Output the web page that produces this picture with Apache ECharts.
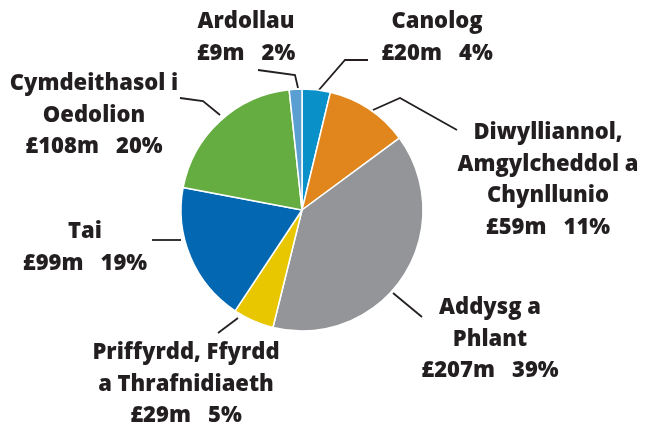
<!DOCTYPE html>
<html>
<head>
<meta charset="utf-8">
<style>
  html, body { margin: 0; padding: 0; background: #ffffff; }
  #chart { width: 646px; height: 430px; }
</style>
<script src="https://cdn.jsdelivr.net/npm/echarts@6/dist/echarts.min.js"></script>
</head>
<body>
<div id="chart"></div>
<script>
// Budget areas, clockwise from twelve o'clock
const categories = [
  'Canolog',
  'Diwylliannol,\nAmgylcheddol a\nChynllunio',
  'Addysg a\nPhlant',
  'Priffyrdd, Ffyrdd\na Thrafnidiaeth',
  'Tai',
  'Cymdeithasol i\nOedolion',
  'Ardollau'
];
// Spend in £ millions
const spendMillions = [20, 59, 207, 29, 99, 108, 9];

const sliceColors = ['#0a90c9', '#e0861d', '#949598', '#e8c600', '#0467b2', '#66ad41', '#5a9fd2'];

// Label block placement: centre x, top y, and the leader polyline (edge -> label)
const labelPlacement = [
  { x: 437, top: 6,   line: [[318, 91], [345, 60], [368, 60]] },
  { x: 548, top: 117, line: [[373, 110], [400, 98], [457, 130]] },
  { x: 490, top: 292, line: [[393, 293], [422, 317]] },
  { x: 186, top: 337, line: [[238, 318], [218, 333]] },
  { x: 85,  top: 216, line: [[181, 240], [152, 240]] },
  { x: 94,  top: 68,  line: [[220, 115], [203, 101], [180, 98]] },
  { x: 246, top: 6,   line: [[298, 88], [295, 75], [258, 70]] }
];

const chart = echarts.init(document.getElementById('chart'), null, { renderer: 'canvas' });

chart.setOption({
  animation: false,
  backgroundColor: '#ffffff',
  series: [{
    type: 'pie',
    center: [302, 210],
    radius: 121,
    startAngle: 90,
    clockwise: true,
    avoidLabelOverlap: false,
    percentPrecision: 0,
    data: categories.map((name, i) => ({
      name: name,
      value: spendMillions[i],
      itemStyle: { color: sliceColors[i] }
    })),
    itemStyle: { borderColor: '#ffffff', borderWidth: 1.5 },
    emphasis: { disabled: true },
    label: {
      show: true,
      formatter: p => p.name + '\n£' + p.value + 'm   ' + p.percent + '%',
      fontFamily: 'Open Sans',
      fontWeight: 800,
      fontSize: 22,
      lineHeight: 31.5,
      color: '#231f20',
      align: 'center'
    },
    labelLine: {
      show: true,
      lineStyle: { color: '#231f20', width: 1.8 }
    },
    labelLayout: params => {
      const p = labelPlacement[params.dataIndex];
      return {
        x: p.x,
        y: p.top,
        align: 'center',
        verticalAlign: 'top',
        labelLinePoints: p.line
      };
    }
  }]
});
</script>
</body>
</html>
